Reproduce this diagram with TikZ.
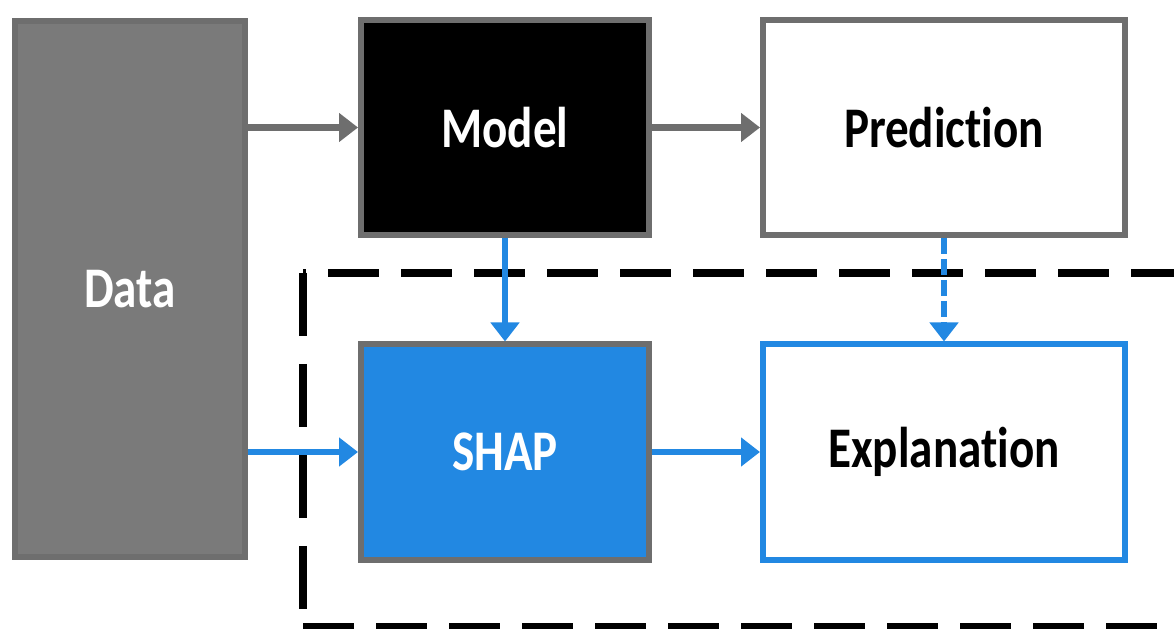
\documentclass[tikz,border=0pt]{standalone}
\usepackage{fontspec}
\setmainfont{Carlito}
\usepackage{tikz}
\usetikzlibrary{arrows.meta}

\definecolor{boxgray}{HTML}{6E6E6E}
\definecolor{datagray}{HTML}{7A7A7A}
\definecolor{shapblue}{HTML}{2288E2}

% tall bold label used in every box
\newcommand{\boxlabel}[1]{\scalebox{1}[1.22]{#1}}

\begin{document}
\begin{tikzpicture}[
    box_style/.style={rectangle, draw=boxgray, line width=0.12cm, inner sep=0pt,
      font=\bfseries\fontsize{26.8}{30}\selectfont},
    wide_box/.style={box_style, minimum width=7.24cm, minimum height=4.30cm},
    narrow_box/.style={box_style, minimum width=5.76cm, minimum height=4.30cm},
    gray_arrow/.style={draw=boxgray, line width=0.13cm, -{Triangle[length=0.38cm, width=0.56cm]}},
    blue_arrow/.style={draw=shapblue, line width=0.13cm, -{Triangle[length=0.38cm, width=0.56cm]}},
    frame_line/.style={draw=black, line width=0.16cm}
]
  \useasboundingbox (0,0) rectangle (23.48,12.56);
  \clip (0,0) rectangle (23.48,12.56);

  % Boxes (the kerns keep t and i apart)
  \node[box_style, fill=datagray, text=white, minimum width=4.60cm, minimum height=10.72cm] (data) at (2.60, 6.78) {\boxlabel{Data}};
  \node[narrow_box, fill=black, text=white] (model) at (10.10, 10.01) {\boxlabel{Model}};
  \node[wide_box, fill=white, text=black] (pred) at (18.88, 10.01) {\boxlabel{Predict\kern0pt ion}};
  \node[narrow_box, fill=shapblue, text=white] (shap) at (10.10, 3.52) {\boxlabel{SHAP}};
  \node[wide_box, draw=shapblue, fill=white, text=black] (expl) at (18.88, 3.52) {\boxlabel{Explanat\kern0pt ion}};

  % Dashed frame round the explanation part
  \coordinate (frame_bl) at (6.06, 0.02);
  \coordinate (frame_tl) at (6.06, 7.10);
  \coordinate (frame_tr) at (24.0, 7.10);
  \coordinate (frame_br) at (24.0, 0.02);
  \draw[frame_line, dash pattern=on 1.26cm off 0.56cm] (frame_tl) -- (frame_bl);
  \draw[frame_line, dash pattern=on 1.02cm off 0.44cm, dash phase=-0.5cm] (frame_tl) -- (frame_tr);
  \draw[frame_line, dash pattern=on 1.02cm off 0.44cm] (frame_bl) -- (frame_br);

  % Connectors
  \draw[gray_arrow] (data.east |- model.west) -- (model.west);
  \draw[gray_arrow] (model) -- (pred);
  \draw[blue_arrow] (model) -- (shap);
  \draw[blue_arrow, dash pattern=on 0.32cm off 0.10cm] (pred) -- (expl);
  \draw[blue_arrow] (data.east |- shap.west) -- (shap.west);
  \draw[blue_arrow] (shap) -- (expl);
\end{tikzpicture}
\end{document}
